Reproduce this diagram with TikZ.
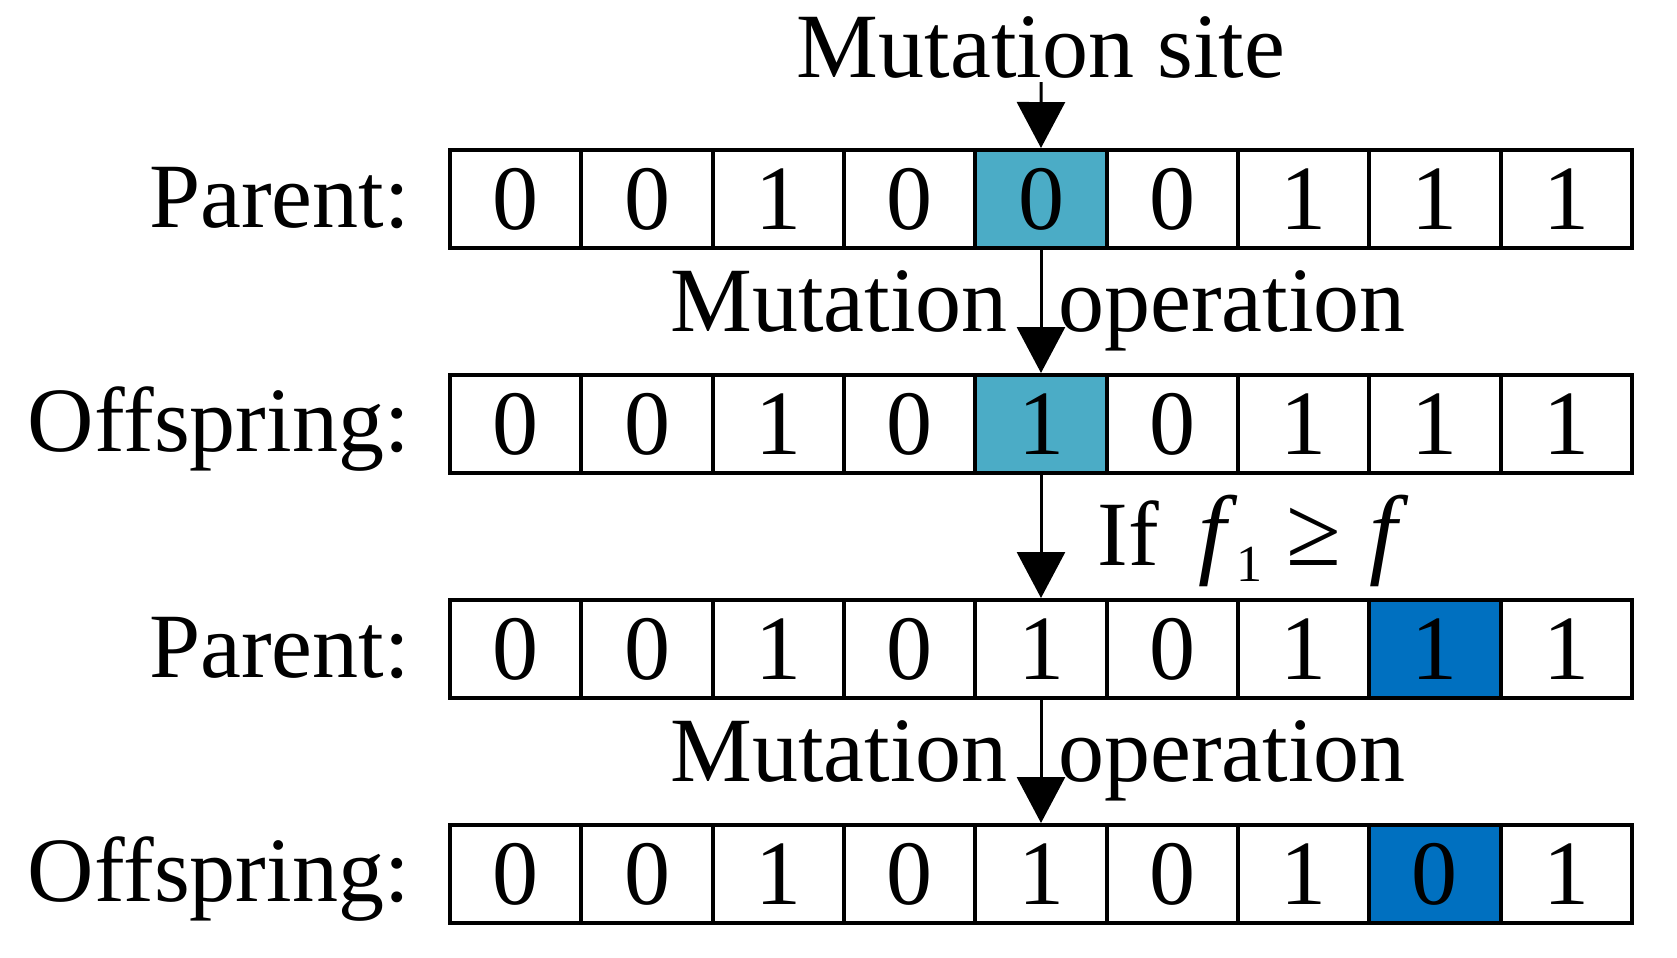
\documentclass[tikz,border=0pt]{standalone}
\usepackage{fontspec}
\setmainfont{Liberation Serif}
\usetikzlibrary{arrows.meta}
\definecolor{teal1}{RGB}{75,172,198}
\definecolor{blue1}{RGB}{0,112,192}
\newcommand{\bigf}{{\fontsize{50}{50}\selectfont\itshape f}}
\begin{document}
\begin{tikzpicture}[x=0.5pt,y=-0.5pt,
  cell/.style={draw, line width=2pt, minimum width=65.67pt, minimum height=49pt, inner sep=0pt, font=\fontsize{46}{55}\selectfont},
  lbl/.style={inner sep=0pt, font=\fontsize{46}{55}\selectfont},
  arr/.style={line width=1.5pt, -{Triangle[length=23pt,width=24pt]}}]
\useasboundingbox (0,0) rectangle (1677,958);
\fill[white] (0,0) rectangle (1677,958);
% rows of cells
\foreach \r/\y/\row in {
  1/199/{0/white,0/white,1/white,0/white,0/teal1,0/white,1/white,1/white,1/white},
  2/424/{0/white,0/white,1/white,0/white,1/teal1,0/white,1/white,1/white,1/white},
  3/649/{0/white,0/white,1/white,0/white,1/white,0/white,1/white,1/blue1,1/white},
  4/874/{0/white,0/white,1/white,0/white,1/white,0/white,1/white,0/blue1,1/white}}{
  \foreach \b/\f [count=\i] in \row {
    \node[cell, fill=\f] (r\r c\i) at ({515.67+131.33*(\i-1)},\y) {\b};
  }
}
% row labels
\node[lbl, anchor=base east] (p1) at (410,227) {Parent:};
\node[lbl, anchor=base east] (o1) at (410,451) {Offspring:};
\node[lbl, anchor=base east] (p2) at (410,677) {Parent:};
\node[lbl, anchor=base east] (o2) at (410,901) {Offspring:};
% mutation site
\node[lbl, anchor=base] (ms) at (1041,77) {Mutation site};
\coordinate (msa) at (1041,82);
\draw[arr] (msa) -- (r1c5.north);
% mutation operation labels
\node[lbl, anchor=base west] (mo1a) at (670,331) {Mutation};
\node[lbl, anchor=base west] (mo1b) at (1058,331) {operation};
\node[lbl, anchor=base west] (mo2a) at (670,781) {Mutation};
\node[lbl, anchor=base west] (mo2b) at (1058,781) {operation};
% condition
\node[lbl, anchor=base west] (cond) at (1097,565) {If\hspace{20pt}\bigf\hspace{5pt}\raisebox{-8pt}{\fontsize{26}{26}\selectfont 1}\hspace{12pt}{\fontsize{50}{50}\selectfont ≥}\hspace{14pt}\bigf};
% arrows
\draw[arr] (r1c5.south) -- (r2c5.north);
\draw[arr] (r2c5.south) -- (r3c5.north);
\draw[arr] (r3c5.south) -- (r4c5.north);
\end{tikzpicture}
\end{document}
